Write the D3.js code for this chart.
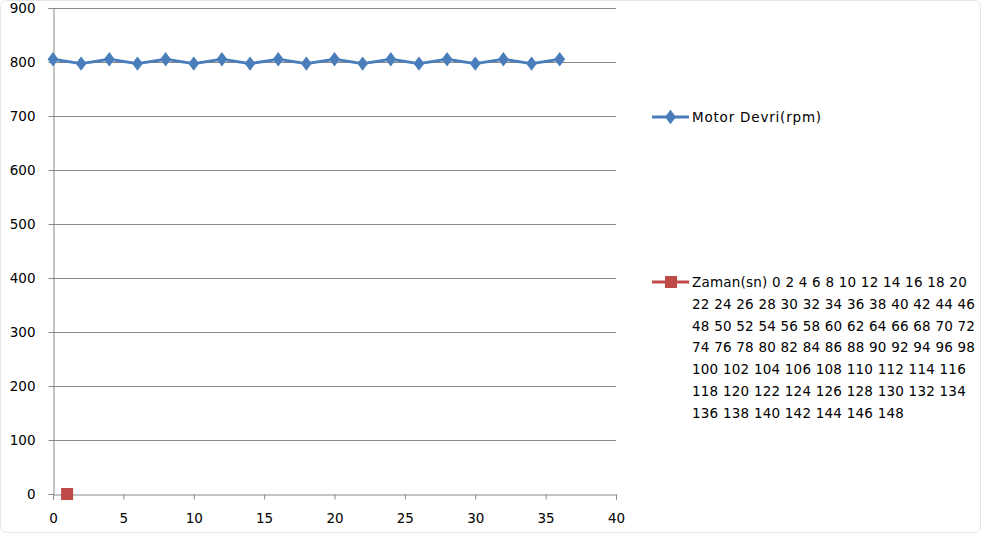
<!DOCTYPE html>
<html><head><meta charset="utf-8">
<script src="https://cdn.jsdelivr.net/npm/d3@7"></script>
<style>body{margin:0;background:#fff}svg{display:block;font-family:"DejaVu Sans",Verdana,sans-serif}</style>
</head><body><svg id="c" width="981" height="533"></svg>
<script>
const motorTimes = [0,2,4,6,8,10,12,14,16,18,20,22,24,26,28,30,32,34,36];
const motorRpm = [805,797,805,797,805,797,805,797,805,797,805,797,805,797,805,797,805,797,805];
const zamanX = [1];
const zamanY = [0];
const xTicks = [0,5,10,15,20,25,30,35,40];
const yTicks = [0,100,200,300,400,500,600,700,800,900];
const motorLabel = "Motor Devri(rpm)";
const zamanLabel = ["Zaman(sn) 0 2 4 6 8 10 12 14 16 18 20","22 24 26 28 30 32 34 36 38 40 42 44 46","48 50 52 54 56 58 60 62 64 66 68 70 72","74 76 78 80 82 84 86 88 90 92 94 96 98","100 102 104 106 108 110 112 114 116","118 120 122 124 126 128 130 132 134","136 138 140 142 144 146 148"];

const FONT = "'DejaVu Sans',Verdana,sans-serif";
const FS = 13.5;
const svg = d3.select("#c");
svg.append("rect").attr("x",0.5).attr("y",0.5).attr("width",980).attr("height",532).attr("rx",6)
  .attr("fill","#fff").attr("stroke","#e6e6e6");
const x = d3.scaleLinear().domain([0,40]).range([53,616]);
const y = d3.scaleLinear().domain([0,900]).range([494,8]);

svg.append("g").selectAll("line").data(yTicks.filter(d=>d>0)).join("line")
  .attr("x1",x(0)).attr("x2",x(40)).attr("y1",d=>y(d)+0.5).attr("y2",d=>y(d)+0.5)
  .attr("stroke","#878787").attr("stroke-width",1);

const yAxis = svg.append("g").attr("transform",`translate(${x(0)+0.5},0)`)
  .call(d3.axisLeft(y).tickValues(yTicks).tickSize(5).tickPadding(13).tickFormat(d3.format("d")));
const xAxis = svg.append("g").attr("transform",`translate(0,${y(0)+0.5})`)
  .call(d3.axisBottom(x).tickValues(xTicks).tickSize(5).tickPadding(14).tickFormat(d3.format("d")));
[yAxis,xAxis].forEach(a=>{
  a.select(".domain").attr("stroke","#878787");
  a.selectAll(".tick line").attr("stroke","#878787");
  a.selectAll("text").attr("font-size",FS).attr("fill","#000").attr("font-family",FONT);
});

const blue = "#4a7ebb", red = "#be4b48";
const pts = motorTimes.map((t,i)=>[t,motorRpm[i]]);
svg.append("path").datum(pts).attr("fill","none").attr("stroke",blue).attr("stroke-width",3)
  .attr("stroke-linejoin","round")
  .attr("d",d3.line().x(d=>x(d[0])).y(d=>y(d[1])));
const diamond = d3.symbol().type(d3.symbolDiamond).size(60);
svg.append("g").selectAll("path").data(pts).join("path")
  .attr("transform",d=>`translate(${x(d[0])},${y(d[1])}) scale(1.3,1)`).attr("d",diamond).attr("fill",blue);

const zpts = zamanX.map((v,i)=>[v,zamanY[i]]);
svg.append("g").selectAll("rect").data(zpts).join("rect")
  .attr("x",d=>x(d[0])-6).attr("y",d=>y(d[1])-6).attr("width",12).attr("height",12).attr("fill",red);

const lg = svg.append("g").attr("font-family",FONT).attr("font-size",FS);
lg.append("line").attr("x1",652).attr("x2",689).attr("y1",117).attr("y2",117).attr("stroke",blue).attr("stroke-width",3);
lg.append("path").attr("transform","translate(670.5,117) scale(1.3,1)").attr("d",diamond).attr("fill",blue);
lg.append("text").attr("x",692).attr("y",122).attr("letter-spacing",0.8).text(motorLabel);
lg.append("line").attr("x1",652).attr("x2",689).attr("y1",282).attr("y2",282).attr("stroke",red).attr("stroke-width",3);
lg.append("rect").attr("x",665).attr("y",276).attr("width",12).attr("height",12).attr("fill",red);
lg.selectAll("text.z").data(zamanLabel).join("text").attr("class","z")
  .attr("x",692).attr("y",(d,i)=>287+i*21.8).attr("letter-spacing",0.22).text(d=>d);
</script></body></html>
